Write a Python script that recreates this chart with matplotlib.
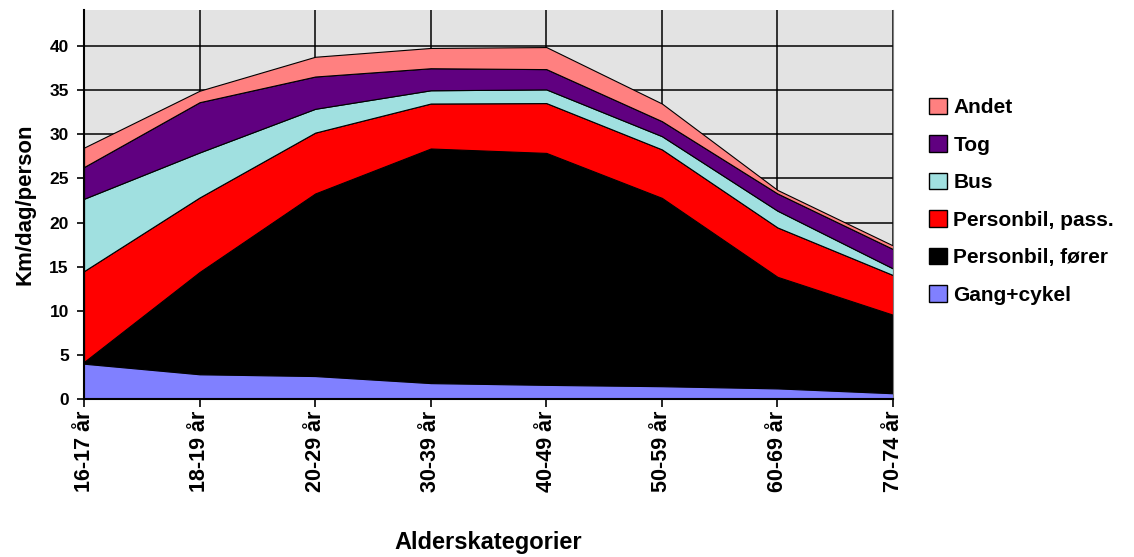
import matplotlib
matplotlib.use('Agg')
import matplotlib.pyplot as plt
from matplotlib.patches import Patch
import numpy as np

plt.rcParams['font.family'] = ['Liberation Sans', 'DejaVu Sans']

# Data (km per day per person)
ages = ["16-17 år", "18-19 år", "20-29 år", "30-39 år",
        "40-49 år", "50-59 år", "60-69 år", "70-74 år"]
gang_cykel = [4.0, 2.8, 2.6, 1.8, 1.6, 1.45, 1.2, 0.65]
bil_forer = [0.2, 11.6, 20.7, 26.6, 26.3, 21.35, 12.65, 8.9]
bil_pass = [10.3, 8.45, 6.9, 5.1, 5.65, 5.5, 5.6, 4.5]
bus = [8.2, 5.1, 2.7, 1.5, 1.55, 1.5, 1.9, 0.75]
tog = [3.6, 5.7, 3.66, 2.5, 2.3, 1.7, 1.95, 2.2]
andet = [2.2, 1.3, 2.24, 2.3, 2.5, 2.0, 0.4, 0.4]

labels = ["Gang+cykel", "Personbil, fører", "Personbil, pass.", "Bus", "Tog", "Andet"]
colors = ["#8080ff", "#000000", "#ff0000", "#a0e0e0", "#600080", "#ff8080"]

fig = plt.figure(figsize=(11.34, 5.57), dpi=100)
ax = fig.add_axes([0.0741, 0.2837, 0.7134, 0.6983])
ax.set_facecolor("#e3e3e3")

x = np.arange(len(ages))
polys = ax.stackplot(x, gang_cykel, bil_forer, bil_pass, bus, tog, andet,
                     colors=colors, edgecolor="black", linewidth=0.8)
polys[0].set_edgecolor("#6060c0")

ax.set_xlim(0, len(ages) - 1)
ax.set_ylim(0, 44.1)
ax.set_yticks(np.arange(0, 41, 5))
ax.set_xticks(x)
ax.set_xticklabels(ages, rotation=90, fontsize=15.5, fontweight='bold')
for t in ax.get_yticklabels():
    t.set_fontsize(12.5)
    t.set_fontweight('bold')

ax.set_axisbelow(True)
ax.grid(True, color="black", linewidth=1.1)

ax.spines['top'].set_visible(False)
ax.spines['right'].set_color("#808080")
ax.spines['left'].set_linewidth(1.5)
ax.spines['bottom'].set_linewidth(1.5)
ax.tick_params(axis='x', direction='inout', length=11, width=1.2, pad=3)
ax.tick_params(axis='y', direction='out', length=5, width=1.2, pad=6)

ax.set_ylabel("Km/dag/person", fontsize=16, fontweight='bold', labelpad=10)
ax.set_xlabel("Alderskategorier", fontsize=17, fontweight='bold', labelpad=28)

# Legend (top series first)
handles = [Patch(facecolor=c, edgecolor="black", linewidth=1) for c in colors][::-1]
leg = fig.legend(handles, labels[::-1], loc='upper left',
                 bbox_to_anchor=(0.803, 0.858), frameon=False,
                 prop={'size': 15, 'weight': 'bold'},
                 handlelength=0.85, handleheight=0.85, handletextpad=0.3,
                 labelspacing=0.86)

plt.savefig("out.png", dpi=100)
